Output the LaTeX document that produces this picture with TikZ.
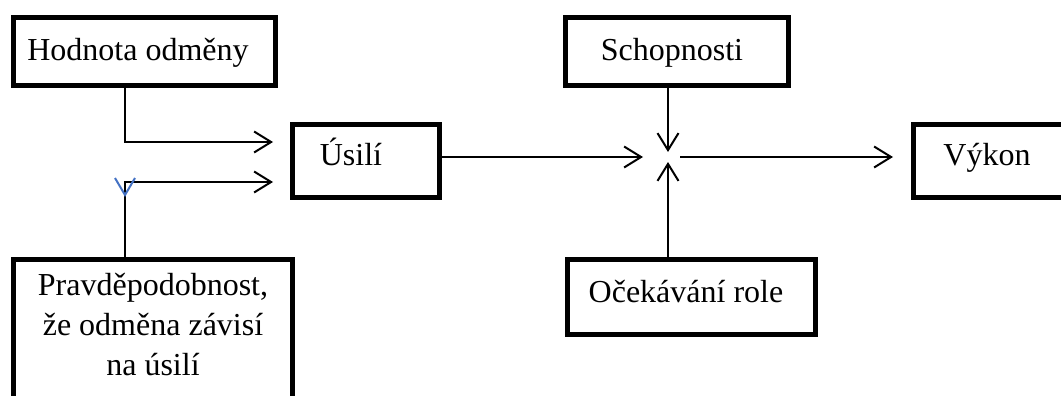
\documentclass[tikz,border=0pt]{standalone}
\usepackage{fontspec}
\setmainfont{Liberation Serif}
\usetikzlibrary{arrows.meta}
\definecolor{markblue}{RGB}{68,114,196}
\tikzset{
  box/.style={draw, line width=5pt, rectangle, inner sep=0pt,
    font=\fontsize{32}{40}\selectfont},
  conn/.style={line width=2pt, -{Straight Barb[length=17pt,width=21pt,line width=2pt]}},
  plain/.style={line width=2pt},
  bluemark/.style={draw=markblue, line width=2pt}
}
\begin{document}
\begin{tikzpicture}[x=1pt,y=-1pt]
\useasboundingbox (0,0) rectangle (1061,396);
% boxes
\node[box, minimum width=262pt, minimum height=68pt, text height=30pt, text depth=11pt]
  (hod) at (144.5,51.5) {Hodnota odměny\hspace*{13pt}};
\node[box, minimum width=223pt, minimum height=68pt, text height=30pt, text depth=11pt]
  (schop) at (677,51.5) {Schopnosti\hspace*{10pt}};
\node[box, minimum width=147pt, minimum height=73pt, text height=24pt, text depth=16pt]
  (usili) at (366,161) {Úsilí\hspace*{30pt}};
\node[box, minimum width=152.5pt, minimum height=73pt, text height=24pt, text depth=16pt]
  (vykon) at (989.75,161) {Výkon\hspace*{5.5pt}};
\node[box, minimum width=248pt, minimum height=75pt, text height=25pt, text depth=15pt]
  (oce) at (691.5,297) {Očekávání role\hspace*{11pt}};
\node[box, minimum width=279pt, minimum height=160.5pt, text height=20pt, text depth=109.5pt]
  (pbox) at (153,339.75) {\begin{tabular}[t]{@{}c@{}}Pravděpodobnost,\\ že odměna závisí\\ na úsilí\end{tabular}};
% helper coordinates
\coordinate (A) at (125,142);
\coordinate (B) at (125,182);
\coordinate (J) at (668,157);
% connectors
\draw[conn, shorten >=17pt] (hod.south -| A) |- (usili.west |- A);
\draw[conn, shorten >=17pt] (pbox.north -| B) |- (usili.west |- B);
\draw[conn, shorten >=25pt] (usili.east |- J) -- (J);
\draw[conn, shorten >=5pt] (schop.south -| J) -- (J);
\draw[conn, shorten >=5pt] (oce.north -| J) -- (J);
\draw[conn, shorten <=12pt, shorten >=18pt] (J) -- (vykon.west |- J);
% blue mark
\draw[bluemark] ([xshift=-10pt,yshift=4pt]B) -- ([yshift=-13pt]B) -- ([xshift=10pt,yshift=4pt]B);
\end{tikzpicture}
\end{document}
